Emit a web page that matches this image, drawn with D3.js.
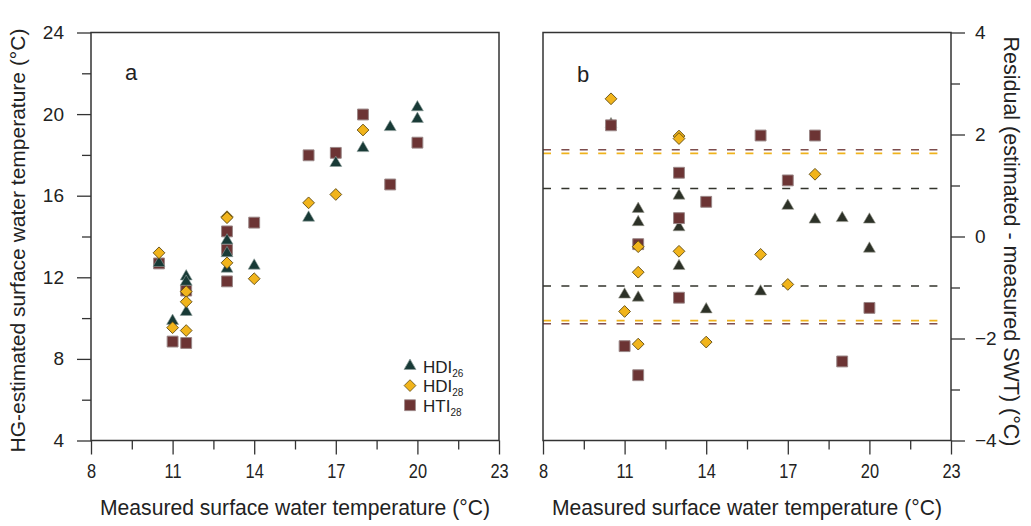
<!DOCTYPE html>
<html>
<head>
<meta charset="utf-8">
<script src="https://cdn.jsdelivr.net/npm/d3@7"></script>
<style>
  body { margin: 0; background: #fff; }
  text { font-family: "Liberation Sans", Arial, sans-serif; fill: #222; }
</style>
</head>
<body>
<div id="chart"></div>
<script>
var width = 1031;
var height = 526;

// measured SWT (x) and estimated SWT for each calibration
let hdi26_x   = [10.5, 11, 11.5, 11.5, 11.5, 13, 13, 13, 14, 16, 17, 18, 19, 20, 20];
let hdi26_est = [12.7, 9.86, 12.04, 11.78, 10.3, 13.8, 13.18, 12.42, 12.57, 14.92, 17.6, 18.33, 19.36, 20.33, 19.76];
let hdi28_x   = [10.5, 11, 11.5, 11.5, 11.5, 13, 13, 13, 14, 16, 17, 18];
let hdi28_est = [13.2, 9.53, 11.3, 10.8, 9.39, 14.97, 14.92, 12.71, 11.93, 15.65, 16.06, 19.22];
let hti28_x   = [10.5, 11, 11.5, 11.5, 13, 13, 13, 14, 16, 17, 18, 19, 20];
let hti28_est = [12.68, 8.85, 11.35, 8.78, 14.25, 13.36, 11.8, 14.68, 17.98, 18.1, 19.98, 16.55, 18.6];

// residual bounds drawn as dashed lines in panel b
let hdi26_lim = [0.94, -0.97];
let hdi28_lim = [1.63, -1.65];
let hti28_lim = [1.70, -1.71];

let x_ticks = [8, 11, 14, 17, 20, 23];
let ya_ticks = [4, 8, 12, 16, 20, 24];
let yb_ticks = [-4, -2, 0, 2, 4];

let tri_a = "#183a36";
let tri_b = "#2c3127";
let dia_col = "#f1b41b";
let sq_col = "#6c3434";

var svg = d3.select("#chart").append("svg")
  .attr("width", width)
  .attr("height", height);

var top_y = 32.5, bot_y = 440.5;

var xa = d3.scaleLinear().domain([8, 23]).range([91, 499]);
var xb = d3.scaleLinear().domain([8, 23]).range([543, 951]);
var ya = d3.scaleLinear().domain([4, 24]).range([bot_y, top_y]);
var yb = d3.scaleLinear().domain([-4, 4]).range([bot_y, top_y]);

function zip(xs, ys) { return xs.map(function(d, i) { return [d, ys[i]]; }); }
function resid(xs, ys) { return xs.map(function(d, i) { return [d, ys[i] - d]; }); }

//---------------- axes ----------------
function x_axis(x, label) {
  var g = svg.append("g").attr("transform", "translate(0," + bot_y + ")");
  g.append("g").call(d3.axisBottom(x).tickValues(d3.range(9.5, 23, 3)).tickSize(9).tickFormat(""));
  g.append("g").call(d3.axisBottom(x).tickValues(x_ticks).tickSize(14).tickPadding(9).tickFormat(d3.format("d")))
    .selectAll("text").style("font-size", "21px").attr("transform", "scale(0.78,1)");
  g.selectAll(".domain").remove();
  g.selectAll("line").style("stroke", "#333").style("stroke-width", 1.3);
  // condensed title
  svg.append("text")
    .attr("x", (x.range()[0] + x.range()[1]) / 2 - 195).attr("y", 515)
    .style("font-size", "22px")
    .attr("textLength", 390).attr("lengthAdjust", "spacingAndGlyphs")
    .text(label);
}

function frame(x) {
  svg.append("rect")
    .attr("x", x.range()[0]).attr("y", top_y)
    .attr("width", x.range()[1] - x.range()[0]).attr("height", bot_y - top_y)
    .style("fill", "none").style("stroke", "#333").style("stroke-width", 1.5);
}

x_axis(xa, "Measured surface water temperature (°C)");
x_axis(xb, "Measured surface water temperature (°C)");

var gya = svg.append("g").attr("transform", "translate(" + xa.range()[0] + ",0)");
gya.append("g").call(d3.axisLeft(ya).tickValues(d3.range(6, 24, 4)).tickSize(9).tickFormat(""));
gya.append("g").call(d3.axisLeft(ya).tickValues(ya_ticks).tickSize(14).tickPadding(13))
  .selectAll("text").style("font-size", "19px");
gya.selectAll(".domain").remove();
gya.selectAll("line").style("stroke", "#333").style("stroke-width", 1.3);

var gyb = svg.append("g").attr("transform", "translate(" + xb.range()[1] + ",0)");
gyb.append("g").call(d3.axisRight(yb).tickValues(d3.range(-3, 4, 2)).tickSize(9).tickFormat(""));
gyb.append("g").call(d3.axisRight(yb).tickValues(yb_ticks).tickSize(14).tickPadding(10))
  .selectAll("text").style("font-size", "19px");
gyb.selectAll(".domain").remove();
gyb.selectAll("line").style("stroke", "#333").style("stroke-width", 1.3);

svg.append("text")
  .attr("transform", "translate(25," + ((top_y + bot_y) / 2 + 4) + ") rotate(-90)")
  .attr("text-anchor", "middle").style("font-size", "21px")
  .text("HG-estimated surface water temperature (°C)");

svg.append("text")
  .attr("transform", "translate(1004," + ((top_y + bot_y) / 2 + 5) + ") rotate(90)")
  .attr("text-anchor", "middle").style("font-size", "21.5px")
  .text("Residual (estimated - measured SWT) (°C)");

//---------------- dashed limits (panel b) ----------------
function limits(vals, col) {
  svg.append("g").selectAll("line").data(vals).enter().append("line")
    .attr("x1", xb(8)).attr("x2", xb(22.6))
    .attr("y1", function(d) { return yb(d); })
    .attr("y2", function(d) { return yb(d); })
    .style("stroke", col).style("stroke-width", 1.6)
    .style("stroke-dasharray", "8,10.4");
}
limits(hti28_lim, "#7d4d4d");
limits(hdi28_lim, "#efb21c");
limits(hdi26_lim, "#33342c");

//---------------- markers ----------------
var tri = d3.symbol().type(d3.symbolTriangle).size(62);
var dia = d3.symbol().type(d3.symbolDiamond2).size(88);
var sq = d3.symbol().type(d3.symbolSquare).size(118);

function points(data, x, y, sym, fill, stroke, sw) {
  svg.append("g").selectAll("path").data(data).enter().append("path")
    .attr("d", sym)
    .attr("transform", function(d) { return "translate(" + x(d[0]) + "," + y(d[1]) + ")"; })
    .style("fill", fill).style("stroke", stroke).style("stroke-width", sw);
}

// panel a
points(zip(hti28_x, hti28_est), xa, ya, sq, sq_col, "#9a8686", 1);
points(zip(hdi26_x, hdi26_est), xa, ya, tri, tri_a, "#8fa09c", 0.6);
points(zip(hdi28_x, hdi28_est), xa, ya, dia, dia_col, "#5e4a12", 0.9);

// panel b
points(resid(hdi26_x, hdi26_est), xb, yb, tri, tri_b, "#9a9a90", 0.6);
points(resid(hti28_x, hti28_est), xb, yb, sq, sq_col, "#9a8686", 1);
points(resid(hdi28_x, hdi28_est), xb, yb, dia, dia_col, "#5e4a12", 0.9);

frame(xa);
frame(xb);

//---------------- labels & legend ----------------
svg.append("text").attr("x", 125).attr("y", 80).style("font-size", "22px").text("a");
svg.append("text").attr("x", 577).attr("y", 82).style("font-size", "22px").text("b");

let leg_names = ["HDI", "HDI", "HTI"];
let leg_subs = ["26", "28", "28"];
let leg_syms = [tri, dia, sq];
let leg_fill = [tri_a, dia_col, sq_col];
let leg_stroke = ["#8fa09c", "#5e4a12", "#9a8686"];

var leg = svg.append("g").attr("transform", "translate(410,366)");
leg_names.forEach(function(n, i) {
  var row = leg.append("g").attr("transform", "translate(0," + (i * 19.6) + ")");
  row.append("path").attr("d", leg_syms[i]).style("fill", leg_fill[i])
    .style("stroke", leg_stroke[i]).style("stroke-width", 0.8);
  var t = row.append("text").attr("x", 13).attr("y", 6.5).style("font-size", "17px");
  t.append("tspan").text(n);
  t.append("tspan").attr("dy", 4).style("font-size", "10px").text(leg_subs[i]);
});
</script>
</body>
</html>
